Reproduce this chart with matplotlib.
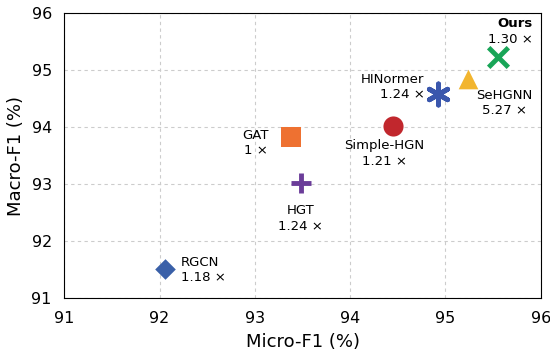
import matplotlib.pyplot as plt

models = ["RGCN", "GAT", "HGT", "Simple-HGN", "HINormer", "SeHGNN", "Ours"]
micro_f1 = [92.06, 93.38, 93.48, 94.45, 94.92, 95.24, 95.55]
macro_f1 = [91.51, 93.82, 93.02, 94.02, 94.58, 94.84, 95.23]
speedups = ["1.18", "1", "1.24", "1.21", "1.24", "5.27", "1.30"]
markers = ["D", "s", "+", "o", (6, 2, 0), "^", "x"]
colors = ["#3a60a8", "#ee7131", "#6b3d99", "#c1272d", "#3a57ad", "#f2b52f", "#18a557"]
sizes = [110, 210, 190, 210, 230, 200, 200]

# label positions (text x, text y, alignment)
label_pos = [(92.22, 91.49, "left"), (93.01, 93.72, "center"), (93.48, 92.40, "center"),
             (94.36, 93.54, "center"), (94.78, 94.70, "right"), (95.62, 94.42, "center"),
             (95.92, 95.68, "right")]

fig, ax = plt.subplots(figsize=(5.5, 3.52), dpi=100)

for i, m in enumerate(models):
    mk = markers[i]
    lw = 3.5 if mk in ("x", "+") or isinstance(mk, tuple) else 0
    ax.scatter(micro_f1[i], macro_f1[i], marker=mk, s=sizes[i], c=colors[i], linewidths=lw, zorder=3)
    tx, ty, ha = label_pos[i]
    if m == "Ours":
        ax.text(tx, ty + 0.13, "Ours", ha=ha, va="center", fontsize=9.5, fontweight="bold")
        ax.text(tx, ty - 0.14, speedups[i] + " ×", ha=ha, va="center", fontsize=9.5)
    else:
        ax.text(tx, ty, m + "\n" + speedups[i] + " ×", ha=ha, va="center", fontsize=9.5, linespacing=1.25)

ax.set_xlim(91, 96)
ax.set_ylim(91, 96)
ax.set_xticks(range(91, 97))
ax.set_yticks(range(91, 97))
ax.tick_params(labelsize=11.5, length=0, pad=9)
ax.grid(True, linestyle=(0, (3, 3)), color="#cccccc", linewidth=0.8)
ax.set_axisbelow(True)
ax.set_xlabel("Micro-F1 (%)", fontsize=13, labelpad=5)
ax.set_ylabel("Macro-F1 (%)", fontsize=13, labelpad=5)

plt.subplots_adjust(left=0.117, right=0.983, top=0.963, bottom=0.153)
plt.savefig("out.png")
